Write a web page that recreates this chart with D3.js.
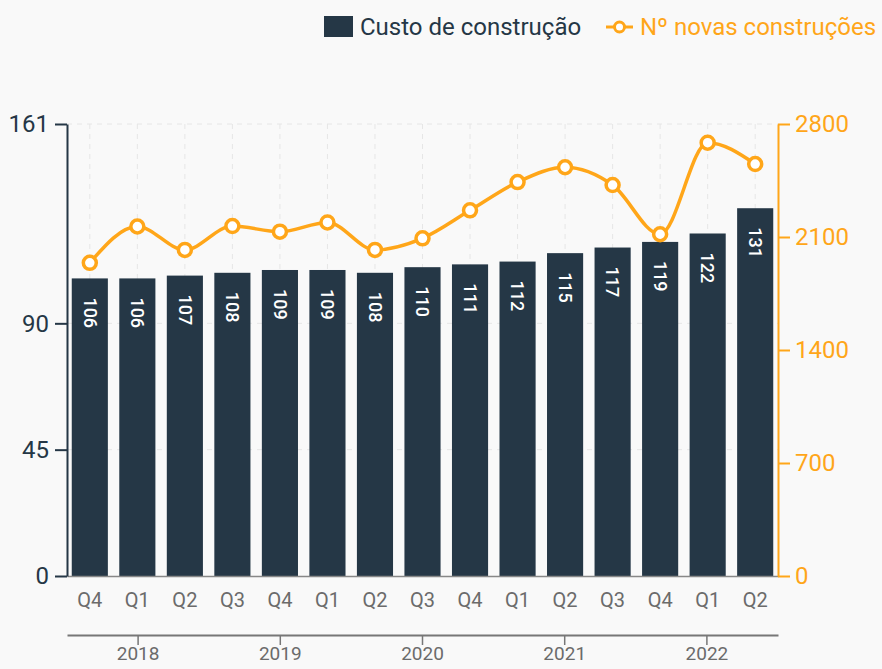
<!DOCTYPE html>
<html>
<head>
<meta charset="utf-8">
<script src="https://cdn.jsdelivr.net/npm/d3@7"></script>
<style>
  html, body { margin: 0; padding: 0; background: #f9f9f9; }
  svg { display: block; }
  svg text { font-family: Roboto, "Noto Sans", sans-serif; }
</style>
</head>
<body>
<div id="chart"></div>
<script>
const quarters = ["Q4", "Q1", "Q2", "Q3", "Q4", "Q1", "Q2", "Q3", "Q4", "Q1", "Q2", "Q3", "Q4", "Q1", "Q2"];
const years = ["2018", "2019", "2020", "2021", "2022"];
const custo = [106, 106, 107, 108, 109, 109, 108, 110, 111, 112, 115, 117, 119, 122, 131];
const novas = [1940, 2165, 2020, 2168, 2133, 2190, 2020, 2092, 2265, 2440, 2532, 2422, 2117, 2684, 2552];
const leftTicks = [0, 45, 90, 161];
const rightTicks = [0, 700, 1400, 2100, 2800];

const width = 882, height = 669;
const margin = { top: 124, right: 104, bottom: 93, left: 67 };
const navy = "#253746", orange = "#ffa619";
const font = "Roboto, 'Noto Sans', sans-serif";

const svg = d3.select("#chart").append("svg")
  .attr("width", width)
  .attr("height", height)
  .attr("font-family", font);

svg.append("rect").attr("width", width).attr("height", height).attr("fill", "#f9f9f9");

const keys = quarters.map((q, i) => i);

const x = d3.scaleBand()
  .domain(keys)
  .range([margin.left, width - margin.right])
  .paddingInner(0.24)
  .paddingOuter(0.1);

const xc = d => x(d) + x.bandwidth() / 2;

const y = d3.scaleLinear().domain([0, 161]).range([height - margin.bottom, margin.top]);
const y2 = d3.scaleLinear().domain([0, 2800]).range([height - margin.bottom, margin.top]);

// grid
svg.append("g")
  .selectAll("line")
  .data(keys)
  .join("line")
  .attr("x1", xc).attr("x2", xc)
  .attr("y1", y(161)).attr("y2", y(0))
  .attr("stroke", "#e6e6e6")
  .attr("stroke-dasharray", "5,5");

svg.append("g")
  .selectAll("line")
  .data(leftTicks.slice(1))
  .join("line")
  .attr("x1", margin.left).attr("x2", width - margin.right)
  .attr("y1", d => y(d)).attr("y2", d => y(d))
  .attr("stroke", "#e6e6e6")
  .attr("stroke-dasharray", "5,5");

// bars
svg.append("g")
  .selectAll("rect")
  .data(custo)
  .join("rect")
  .attr("x", (d, i) => x(i))
  .attr("y", d => y(d))
  .attr("width", x.bandwidth())
  .attr("height", d => y(0) - y(d))
  .attr("fill", navy);

svg.append("g")
  .selectAll("text")
  .data(custo)
  .join("text")
  .attr("transform", (d, i) => `translate(${xc(i)},${y(d) + 19}) rotate(90)`)
  .attr("dy", "0.35em")
  .attr("fill", "#fff")
  .style("font-size", "18px")
  .style("font-weight", 500)
  .text(d => d);

// bottom axis (quarters)
const xAxis = svg.append("g")
  .attr("transform", `translate(0,${y(0)})`)
  .call(d3.axisBottom(x).tickSize(0).tickSizeOuter(0).tickPadding(17).tickFormat(i => quarters[i]));
xAxis.attr("font-family", font);
xAxis.select(".domain").attr("stroke", "#888").attr("stroke-width", 1.5);
xAxis.selectAll("text")
  .attr("fill", "#6b6b6b")
  .style("font-size", "20px");

// year axis
const xYear = d3.scaleBand().domain(years).range([margin.left, width - margin.right]);
const yearAxis = svg.append("g")
  .attr("transform", `translate(0,635)`)
  .call(d3.axisBottom(xYear).tickSize(10).tickSizeOuter(0).tickPadding(2));
yearAxis.attr("font-family", font);
yearAxis.select(".domain").attr("stroke", "#777").attr("stroke-width", 2);
yearAxis.selectAll(".tick line").attr("stroke", "#777").attr("stroke-width", 1.5);
yearAxis.selectAll("text")
  .attr("fill", "#6b6b6b")
  .style("font-size", "19px");

// left axis
const yAxis = svg.append("g")
  .attr("transform", `translate(${margin.left},0)`)
  .call(d3.axisLeft(y).tickValues(leftTicks).tickSize(12).tickSizeOuter(0).tickPadding(6));
yAxis.attr("font-family", font);
yAxis.selectAll(".domain, .tick line").attr("stroke", navy).attr("stroke-width", 2);
yAxis.selectAll("text").attr("fill", navy).style("font-size", "24px");

// right axis
const yAxis2 = svg.append("g")
  .attr("transform", `translate(${width - margin.right},0)`)
  .call(d3.axisRight(y2).tickValues(rightTicks).tickFormat(d3.format("d")).tickSize(12).tickSizeOuter(0).tickPadding(5));
yAxis2.attr("font-family", font);
yAxis2.selectAll(".domain, .tick line").attr("stroke", orange).attr("stroke-width", 2);
yAxis2.selectAll("text").attr("fill", orange).style("font-size", "24px");

// line
const line = d3.line()
  .x((d, i) => xc(i))
  .y(d => y2(d))
  .curve(d3.curveMonotoneX);

svg.append("path")
  .datum(novas)
  .attr("d", line)
  .attr("fill", "none")
  .attr("stroke", orange)
  .attr("stroke-width", 3.5);

svg.append("g")
  .selectAll("circle")
  .data(novas)
  .join("circle")
  .attr("cx", (d, i) => xc(i))
  .attr("cy", d => y2(d))
  .attr("r", 6.5)
  .attr("fill", "#fff")
  .attr("stroke", orange)
  .attr("stroke-width", 3.5);

// legend
const legend = svg.append("g");
legend.append("rect")
  .attr("x", 324).attr("y", 16).attr("width", 29).attr("height", 21)
  .attr("fill", navy);
legend.append("text")
  .attr("x", 360).attr("y", 27).attr("dy", "0.35em")
  .attr("fill", navy)
  .style("font-size", "24px")
  .text("Custo de construção");
legend.append("line")
  .attr("x1", 606).attr("x2", 633).attr("y1", 27).attr("y2", 27)
  .attr("stroke", orange).attr("stroke-width", 3);
legend.append("circle")
  .attr("cx", 619.5).attr("cy", 27).attr("r", 5)
  .attr("fill", "#fff").attr("stroke", orange).attr("stroke-width", 3);
legend.append("text")
  .attr("x", 640).attr("y", 27).attr("dy", "0.35em")
  .attr("fill", orange)
  .style("font-size", "24px")
  .text("Nº novas construções");
</script>
</body>
</html>
